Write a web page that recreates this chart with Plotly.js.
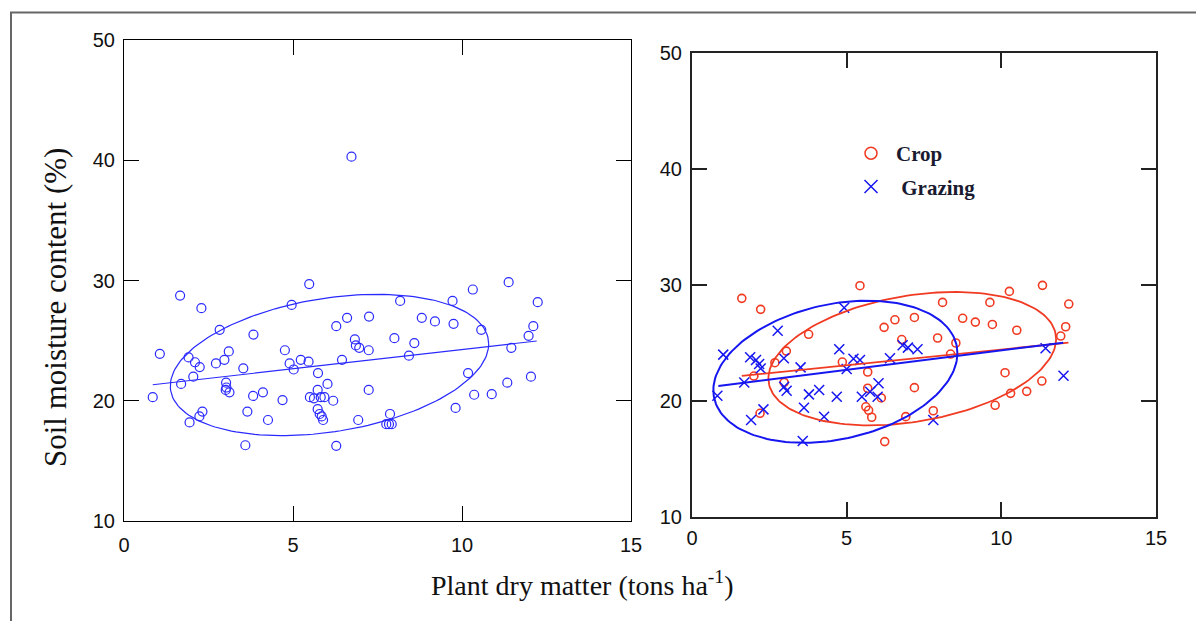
<!DOCTYPE html>
<html>
<head>
<meta charset="utf-8">
<script src="https://cdn.plot.ly/plotly-3.0.1.min.js"></script>
<style>html,body{margin:0;padding:0;background:#fff;}#chart{width:1196px;height:621px;}</style>
</head>
<body>
<div id="chart"></div>
<script>
// ---------- data ----------
// Left panel: all sites
const allX = [6.73,5.48,1.66,2.29,4.96,2.83,6.60,7.25,6.28,3.83,1.06,3.10,2.97,2.72,1.91,2.10,2.24,2.05,1.69,0.85,
  3.53,4.76,4.90,5.02,5.23,5.46,5.74,6.02,6.45,6.83,6.86,6.96,7.24,7.24,3.02,3.03,3.01,3.12,3.82,4.11,
  4.69,5.73,5.50,5.62,5.82,5.93,6.19,5.73,5.79,5.85,5.89,2.32,2.23,1.94,3.65,4.26,6.93,3.59,6.28,
  11.38,10.32,8.17,9.72,12.24,8.81,9.20,9.75,10.57,12.11,11.97,8.00,8.59,11.46,8.43,10.18,12.04,11.34,
  10.36,10.88,9.81,7.87,7.76,7.84,7.92];
const allY = [40.3,29.7,28.75,27.7,27.97,25.9,26.9,27.0,26.2,25.5,23.9,24.1,23.4,23.1,23.6,23.2,22.8,22.0,21.4,20.3,
  22.7,24.2,23.1,22.6,23.4,23.25,22.3,21.4,23.4,25.1,24.6,24.4,24.2,20.9,21.5,21.1,20.9,20.7,20.4,20.7,
  20.06,20.9,20.3,20.2,20.3,20.3,20.0,19.3,18.9,18.7,18.4,19.1,18.7,18.2,19.1,18.4,18.4,16.3,16.25,
  29.86,29.25,28.3,28.3,28.2,26.9,26.6,26.4,25.9,26.2,25.4,25.2,24.8,24.4,23.75,22.3,22.0,21.5,
  20.5,20.55,19.4,18.9,18.05,18.05,18.05];

// Right panel: crop sites
const cropX = [5.43,1.61,2.22,6.56,6.21,7.19,3.77,6.78,3.05,4.86,2.68,2.00,5.68,2.98,5.68,6.12,7.19,5.62,5.71,5.81,
  2.20,6.91,6.23,11.33,10.26,8.10,9.63,12.18,8.75,9.16,9.71,10.50,12.08,11.92,7.94,8.53,8.36,10.12,
  11.31,10.82,10.30,9.80,7.80];
const cropY = [29.94,28.85,27.9,27.0,26.35,27.2,25.75,25.3,24.3,23.36,23.3,22.15,22.5,21.6,21.1,20.26,21.15,19.5,19.2,18.6,
  18.94,18.65,16.5,29.97,29.45,28.5,28.5,28.36,27.13,26.8,26.6,26.1,26.4,25.6,25.43,25.0,24.05,22.44,
  21.72,20.83,20.66,19.63,19.16];

// Right panel: grazing sites
const grazX = [4.92,2.77,1.01,1.88,2.07,2.17,2.22,2.97,4.76,5.22,5.43,3.51,5.00,6.40,6.81,6.98,7.29,1.69,2.98,3.06,
  0.82,3.78,4.11,4.68,5.49,5.76,6.03,6.00,3.62,4.27,2.31,1.91,3.58,11.43,12.01,7.80];
const grazY = [28.04,26.06,24.0,23.77,23.53,23.19,22.8,23.68,24.46,23.65,23.53,22.9,22.76,23.68,24.8,24.6,24.46,21.6,21.23,20.89,
  20.46,20.57,20.95,20.37,20.37,20.8,21.53,20.37,19.42,18.65,19.28,18.36,16.55,24.54,22.18,18.36];

// Fitted lines as drawn in the picture: [x start, x end], [y start, y end]
const fitAllX = [0.85, 12.21],  fitAllY = [21.33, 24.97];
const fitCropX = [1.61, 12.17], fitCropY = [22.16, 25.03];
const fitGrazX = [0.85, 12.00], fitGrazY = [21.30, 25.03];

// Ellipses as drawn in the picture: [x min, x max, y min, y max, y-offset of the x-extreme point]
const ellAllP  = [1.37, 10.79, 17.10, 28.85, 1.75];
const ellCropP = [2.47, 11.77, 17.90, 29.40, 1.70];
const ellGrazP = [0.69, 8.58, 16.40, 28.65, 1.60];

const xTicks = [0, 5, 10, 15];
const yTicks = [10, 20, 30, 40, 50];
const seriesNames = ['Crop', 'Grazing'];

// ---------- ellipse outline from its extremes ----------
function ellipse(p) {
  const [x0, x1, y0, y1, dy] = p;
  const cx = (x0 + x1) / 2, cy = (y0 + y1) / 2, a = (x1 - x0) / 2, b = (y1 - y0) / 2;
  const l11 = a, l21 = dy, l22 = Math.sqrt(b * b - dy * dy);
  const ex = [], ey = [];
  for (let i = 0; i <= 180; i++) {
    const t = 2 * Math.PI * i / 180;
    ex.push(cx + l11 * Math.cos(t));
    ey.push(cy + l21 * Math.cos(t) + l22 * Math.sin(t));
  }
  return {x: ex, y: ey};
}

const blueL = '#2a2aff', red = '#f03a22', blueR = '#1616f0';
const ellAll = ellipse(ellAllP), ellCrop = ellipse(ellCropP), ellGraz = ellipse(ellGrazP);

const traces = [
  {x: allX, y: allY, xaxis: 'x', yaxis: 'y', mode: 'markers', type: 'scatter', showlegend: false,
   marker: {symbol: 'circle-open', size: 9, color: blueL, line: {width: 1.2, color: blueL}}},
  {x: fitAllX, y: fitAllY, xaxis: 'x', yaxis: 'y', mode: 'lines', showlegend: false, line: {color: blueL, width: 1.2}},
  {x: ellAll.x, y: ellAll.y, xaxis: 'x', yaxis: 'y', mode: 'lines', showlegend: false, line: {color: blueL, width: 1.2}},

  {x: cropX, y: cropY, xaxis: 'x2', yaxis: 'y2', mode: 'markers', showlegend: false,
   marker: {symbol: 'circle-open', size: 8, color: red, line: {width: 1.6, color: red}}},
  {x: grazX, y: grazY, xaxis: 'x2', yaxis: 'y2', mode: 'markers', showlegend: false,
   marker: {symbol: 'x-thin-open', size: 10, color: blueR, line: {width: 1.5, color: blueR}}},
  {x: fitCropX, y: fitCropY, xaxis: 'x2', yaxis: 'y2', mode: 'lines', showlegend: false, line: {color: red, width: 1.8}},
  {x: ellCrop.x, y: ellCrop.y, xaxis: 'x2', yaxis: 'y2', mode: 'lines', showlegend: false, line: {color: red, width: 1.8}},
  {x: fitGrazX, y: fitGrazY, xaxis: 'x2', yaxis: 'y2', mode: 'lines', showlegend: false, line: {color: blueR, width: 2}},
  {x: ellGraz.x, y: ellGraz.y, xaxis: 'x2', yaxis: 'y2', mode: 'lines', showlegend: false, line: {color: blueR, width: 2}},

  // legend entries
  {x: [null], y: [null], xaxis: 'x2', yaxis: 'y2', mode: 'markers', name: seriesNames[0], legendgroup: 'a',
   marker: {symbol: 'circle-open', size: 12, color: red, line: {width: 1.5, color: red}}},
  {x: [null], y: [null], xaxis: 'x2', yaxis: 'y2', mode: 'markers', name: '\u00a0' + seriesNames[1], legendgroup: 'b',
   marker: {symbol: 'x-thin-open', size: 13, color: blueR, line: {width: 1.5, color: blueR}}}
];

const W = 1196, H = 621;
const tickFont = {family: 'Liberation Sans, Arial, sans-serif', size: 20, color: '#111'};
function axisBase(extra) {
  return Object.assign({
    showline: true, linecolor: '#000', linewidth: 1, mirror: 'ticks', ticks: 'inside', ticklen: 15,
    tickcolor: '#000', tickwidth: 1, showgrid: false, zeroline: false, tickfont: tickFont, fixedrange: true
  }, extra);
}

const layout = {
  width: W, height: H, margin: {l: 0, r: 0, t: 0, b: 0},
  paper_bgcolor: '#fff', plot_bgcolor: '#fff', showlegend: true,
  legend: {x: 846 / W, y: 1 - 133 / H, xanchor: 'left', yanchor: 'top', bgcolor: 'rgba(0,0,0,0)',
           font: {family: 'Liberation Serif, Times New Roman, serif', size: 21, color: '#1a1a30', weight: 'bold'},
           tracegroupgap: 3, traceorder: 'grouped', itemwidth: 40},
  xaxis: axisBase({domain: [124 / W, 631 / W], range: [0, 15], tickvals: xTicks, anchor: 'y', ticklabelstandoff: 6}),
  yaxis: axisBase({domain: [1 - 521 / H, 1 - 40 / H], range: [10, 50], tickvals: yTicks, anchor: 'x', ticklabelstandoff: 4}),
  xaxis2: axisBase({domain: [692 / W, 1156 / W], range: [0, 15], tickvals: xTicks, anchor: 'y2', linewidth: 2, tickwidth: 2,
                    linecolor: '#222', tickcolor: '#222', ticklabelstandoff: 2}),
  yaxis2: axisBase({domain: [1 - 517 / H, 1 - 53 / H], range: [10, 50], tickvals: yTicks, anchor: 'x2', linewidth: 2, tickwidth: 2,
                    linecolor: '#222', tickcolor: '#222', ticklabelstandoff: 4}),
  shapes: [
    {type: 'path', xref: 'paper', yref: 'paper', path: `M ${11 / W} -0.05 L ${11 / W} ${1 - 12.5 / H} L 1.05 ${1 - 12.5 / H}`,
     line: {color: '#666', width: 2}}
  ],
  annotations: [
    {text: 'Soil moisture content (%)', xref: 'paper', yref: 'paper', x: 55 / W, y: 1 - 308 / H, textangle: -90,
     showarrow: false, xanchor: 'center', yanchor: 'middle',
     font: {family: 'Liberation Serif, Times New Roman, serif', size: 31, color: '#111'}},
    {text: 'Plant dry matter (tons ha<sup>-1</sup>)', xref: 'paper', yref: 'paper', x: 582 / W, y: 1 - 583 / H,
     showarrow: false, xanchor: 'center', yanchor: 'middle',
     font: {family: 'Liberation Serif, Times New Roman, serif', size: 28, color: '#111'}}
  ]
};

Plotly.newPlot('chart', traces, layout, {displayModeBar: false, staticPlot: true});
</script>
</body>
</html>
